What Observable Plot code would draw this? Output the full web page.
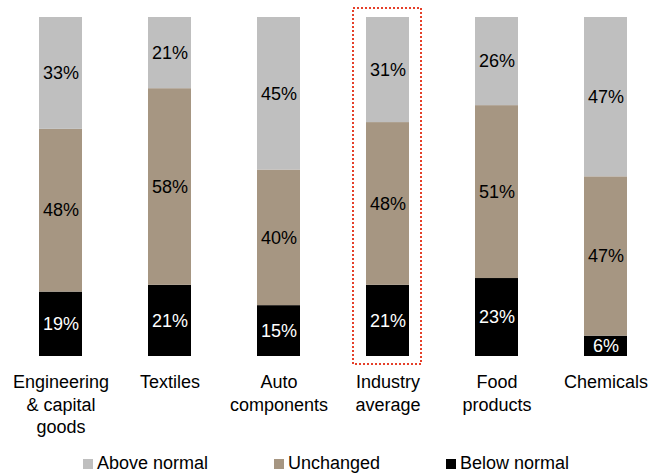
<!DOCTYPE html>
<html>
<head>
<meta charset="utf-8">
<script src="https://cdn.jsdelivr.net/npm/d3@7"></script>
<script src="https://cdn.jsdelivr.net/npm/@observablehq/plot@0.6"></script>
<style>
  body { margin: 0; background: #fff; font-family: "Liberation Sans", Arial, sans-serif; }
  #chart { width: 651px; }
  .legend { position: relative; height: 30px; width: 651px; font-size: 18px; color: #000; }
  .legend .item { position: absolute; top: 8px; display: flex; align-items: center; white-space: nowrap; line-height: 20px; }
  .legend .sw { width: 10px; height: 10px; margin-right: 4px; display: inline-block; position: relative; top: 1px; }
</style>
</head>
<body>
<div id="chart"></div>
<script>
// Survey sectors and share of responses (%)
const categories = ["Engineering & capital goods", "Textiles", "Auto components", "Industry average", "Food products", "Chemicals"];
const tickLabels = ["Engineering\n& capital\ngoods", "Textiles", "Auto\ncomponents", "Industry\naverage", "Food\nproducts", "Chemicals"];
const belowNormal = [19, 21, 15, 21, 23, 6];
const unchanged = [48, 58, 40, 48, 51, 47];
const aboveNormal = [33, 21, 45, 31, 26, 47];
const seriesNames = ["Below normal", "Unchanged", "Above normal"];
const seriesColors = ["#000000", "#A69682", "#BFBFBF"];
const highlighted = "Industry average";

// Long-format rows, bottom segment first so stacking follows series order
const rows = [];
categories.forEach((c, i) => {
  rows.push({category: c, series: "Below normal", value: belowNormal[i]});
  rows.push({category: c, series: "Unchanged", value: unchanged[i]});
  rows.push({category: c, series: "Above normal", value: aboveNormal[i]});
});
const labelOf = new Map(categories.map((c, i) => [c, tickLabels[i]]));

const plot = Plot.plot({
  width: 651,
  height: 445,
  marginTop: 17,
  marginBottom: 89,
  marginLeft: 28,
  marginRight: 13,
  style: {fontFamily: "'Liberation Sans', Arial, sans-serif", background: "#fff"},
  x: {domain: categories, paddingInner: 0.605, paddingOuter: 0.1, axis: null},
  y: {domain: [0, 100], axis: null},
  color: {domain: seriesNames, range: seriesColors},
  marks: [
    Plot.barY(rows, Plot.stackY({x: "category", y: "value", fill: "series", z: "series"})),
    Plot.text(rows, Plot.stackY({
      x: "category", y: "value", z: "series",
      text: d => d.value + "%",
      fill: d => d.series === "Below normal" ? "#fff" : "#000",
      fontSize: 18
    })),
    // dotted frame around the industry average column
    Plot.barY([highlighted], {
      x: d => d, y1: 0, y2: 100,
      fill: "none", stroke: "#E5402A", strokeWidth: 2, strokeDasharray: "2 2",
      insetLeft: -13, insetRight: -12, insetTop: -9, insetBottom: -8
    }),
    Plot.axisX({
      label: null,
      tickSize: 0, tickPadding: 16, fontSize: 18, lineHeight: 1.25,
      tickFormat: d => labelOf.get(d), fill: "#000"
    })
  ]
});
document.getElementById("chart").appendChild(plot);

// Legend below the chart
const legend = document.createElement("div");
legend.className = "legend";
const legendLeft = [83, 274, 446];
[2, 1, 0].forEach((k, j) => {
  const item = document.createElement("div");
  item.className = "item";
  item.style.left = legendLeft[j] + "px";
  const sw = document.createElement("span");
  sw.className = "sw";
  sw.style.background = seriesColors[k];
  const t = document.createElement("span");
  t.textContent = seriesNames[k];
  item.appendChild(sw);
  item.appendChild(t);
  legend.appendChild(item);
});
document.body.appendChild(legend);
</script>
</body>
</html>
